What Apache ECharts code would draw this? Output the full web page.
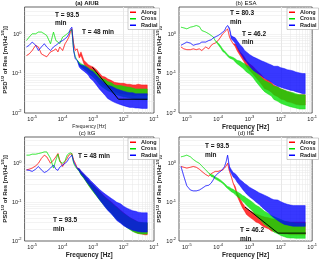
<!DOCTYPE html>
<html><head><meta charset="utf-8">
<script src="https://cdn.jsdelivr.net/npm/echarts@6/dist/echarts.min.js"></script>
<style>html,body{margin:0;padding:0;background:#fff}#c{width:320px;height:260px}</style>
</head><body><div id="c"></div><script>
// ---------- data ----------
const freq = [6.5e-6,8e-6,1e-5,1.3e-5,1.6e-5,2e-5,2.5e-5,3e-5,4e-5,5e-5,6e-5,7e-5,8e-5,1e-4,1.2e-4,1.4e-4,1.6e-4,1.8e-4,2e-4,2.3e-4,2.6e-4,3e-4,3.5e-4,4e-4,5e-4,6e-4,7e-4,8e-4,1e-3,1.3e-3,1.6e-3,2e-3,2.5e-3,3e-3,4e-3,5e-3,6e-3,8e-3,1e-2,1.3e-2,1.6e-2,2e-2,2.5e-2,3e-2,4e-2,5e-2,6e-2];
const seriesNames = ['Along','Cross','Radial'];
const panelTitles = ['(a) AIUB','(b) ESA','(c) ItG','(d) IfE'];
const periodsA = [93.5, 48], periodsB = [80.3, 46.2], periodsC = [93.5, 48], periodsD = [93.5, 46.2];

// (a) AIUB : upper / lower envelope of each spectrum
const aAlongHi = [0.29,0.32,0.39,0.53,0.48,0.32,0.29,0.27,0.36,0.39,0.43,0.36,0.48,0.39,0.58,0.70,0.86,1.15,1.39,0.58,0.39,0.43,0.29,0.36,0.22,0.19,0.17,0.16,0.149,0.127,0.105,0.086,0.082,0.074,0.067,0.061,0.059,0.057,0.057,0.054,0.054,0.052,0.052,0.054,0.052,0.052,0.052];
const aAlongLo = [0.29,0.32,0.39,0.53,0.48,0.32,0.29,0.27,0.36,0.39,0.43,0.36,0.48,0.39,0.58,0.70,0.86,1.15,1.39,0.58,0.39,0.43,0.25,0.29,0.18,0.143,0.127,0.113,0.101,0.080,0.066,0.054,0.047,0.043,0.039,0.036,0.034,0.031,0.031,0.029,0.029,0.028,0.028,0.029,0.028,0.028,0.028];
const aCrossHi = [0.70,0.86,1.04,1.04,1.15,1.15,1.04,0.94,0.58,1.15,0.70,0.64,0.58,0.86,0.94,1.04,1.15,1.26,1.31,0.39,0.27,0.22,0.20,0.18,0.167,0.155,0.143,0.132,0.123,0.105,0.086,0.074,0.071,0.063,0.059,0.052,0.050,0.050,0.048,0.046,0.045,0.043,0.041,0.041,0.041,0.041,0.041];
const aCrossLo = [0.70,0.86,1.04,1.04,1.15,1.15,1.04,0.94,0.58,1.15,0.70,0.64,0.58,0.86,0.94,1.04,1.15,1.26,1.31,0.39,0.27,0.22,0.167,0.149,0.132,0.118,0.105,0.094,0.083,0.066,0.054,0.046,0.041,0.037,0.034,0.030,0.029,0.027,0.026,0.025,0.024,0.023,0.022,0.022,0.0218,0.0218,0.0218];
const aRadialHi = [0.48,0.53,0.64,0.53,0.39,0.48,0.58,0.48,0.39,0.48,0.53,0.58,0.64,0.70,0.78,0.86,1.04,1.39,1.53,0.39,0.24,0.22,0.18,0.167,0.16,0.146,0.135,0.123,0.113,0.092,0.077,0.065,0.056,0.051,0.048,0.044,0.041,0.038,0.036,0.034,0.033,0.033,0.031,0.031,0.031,0.031,0.031];
const aRadialLo = [0.48,0.53,0.64,0.53,0.39,0.48,0.58,0.48,0.39,0.48,0.53,0.58,0.64,0.70,0.78,0.86,1.04,1.39,1.53,0.39,0.24,0.22,0.149,0.132,0.116,0.103,0.092,0.077,0.066,0.051,0.041,0.034,0.028,0.0235,0.0205,0.0187,0.0176,0.0163,0.0154,0.0145,0.0139,0.0139,0.0134,0.0134,0.0131,0.0131,0.0131];

// (b) ESA
const bAlongHi = [0.48,0.43,0.41,0.41,0.43,0.41,0.43,0.39,0.48,0.43,0.53,0.58,0.60,0.70,0.86,1.04,1.15,1.26,1.39,0.86,0.70,0.58,0.57,0.48,0.36,0.31,0.26,0.215,0.18,0.152,0.127,0.107,0.090,0.075,0.068,0.060,0.051,0.046,0.041,0.038,0.035,0.034,0.031,0.029,0.029,0.029,0.029];
const bAlongLo = [0.48,0.43,0.41,0.41,0.43,0.41,0.43,0.39,0.48,0.43,0.53,0.58,0.60,0.70,0.86,1.04,1.15,1.26,1.39,0.86,0.70,0.58,0.49,0.39,0.29,0.23,0.19,0.152,0.123,0.099,0.080,0.065,0.052,0.042,0.038,0.034,0.029,0.026,0.0226,0.0213,0.0194,0.0187,0.0176,0.0166,0.016,0.016,0.016];
const bCrossHi = [1.53,1.47,1.39,1.53,1.59,1.69,1.59,1.26,1.15,1.04,0.94,0.86,0.70,0.61,0.51,0.42,0.38,0.34,0.31,0.28,0.27,0.26,0.24,0.22,0.21,0.19,0.18,0.165,0.152,0.127,0.11,0.092,0.077,0.067,0.060,0.055,0.048,0.046,0.041,0.038,0.036,0.034,0.033,0.031,0.029,0.029,0.029];
const bCrossLo = [1.53,1.47,1.39,1.53,1.59,1.69,1.59,1.26,1.15,1.04,0.94,0.86,0.70,0.55,0.45,0.37,0.34,0.31,0.28,0.25,0.24,0.23,0.20,0.18,0.157,0.14,0.125,0.111,0.099,0.080,0.063,0.051,0.041,0.035,0.030,0.027,0.0222,0.0198,0.0176,0.0163,0.0154,0.0145,0.0139,0.0134,0.0126,0.0126,0.0126];
const bRadialHi = [0.53,0.58,0.64,0.60,0.53,0.56,0.58,0.64,0.64,0.70,0.73,0.82,0.86,0.94,1.04,1.15,1.26,1.53,1.69,1.47,0.94,0.87,0.82,0.70,0.55,0.47,0.39,0.36,0.31,0.27,0.25,0.23,0.21,0.20,0.18,0.167,0.155,0.155,0.143,0.135,0.127,0.123,0.118,0.111,0.105,0.101,0.101];
const bRadialLo = [0.53,0.58,0.64,0.60,0.53,0.56,0.58,0.64,0.64,0.70,0.73,0.82,0.86,0.94,1.04,1.15,1.26,1.53,1.69,1.31,0.78,0.69,0.60,0.48,0.34,0.27,0.22,0.20,0.155,0.123,0.109,0.097,0.086,0.077,0.068,0.061,0.054,0.048,0.045,0.042,0.040,0.038,0.037,0.035,0.033,0.031,0.031];

// (c) ItG
const cAlongHi = [0.70,0.73,0.78,0.89,1.04,1.39,1.69,1.53,1.04,1.26,1.53,1.86,1.26,0.86,1.15,1.39,1.69,1.79,1.86,1.26,1.04,0.78,0.75,0.63,0.53,0.44,0.39,0.34,0.29,0.23,0.20,0.165,0.138,0.123,0.103,0.086,0.077,0.063,0.054,0.046,0.041,0.037,0.034,0.031,0.030,0.029,0.029];
const cAlongLo = [0.70,0.73,0.78,0.89,1.04,1.39,1.69,1.53,1.04,1.26,1.53,1.86,1.26,0.86,1.15,1.39,1.69,1.79,1.86,1.26,1.04,0.78,0.67,0.54,0.43,0.35,0.29,0.25,0.20,0.152,0.123,0.099,0.080,0.068,0.055,0.045,0.038,0.031,0.027,0.023,0.0205,0.0183,0.0166,0.0157,0.0151,0.0145,0.0145];
const cCrossHi = [1.69,1.69,1.79,1.79,1.86,1.94,2.05,2.05,1.39,0.78,1.26,1.79,1.15,1.04,1.21,1.69,1.86,1.94,1.86,1.04,0.86,0.73,0.72,0.60,0.51,0.43,0.37,0.33,0.28,0.22,0.19,0.157,0.132,0.116,0.097,0.082,0.073,0.060,0.052,0.045,0.040,0.036,0.033,0.031,0.030,0.030,0.030];
const cCrossLo = [1.69,1.69,1.79,1.79,1.86,1.94,2.05,2.05,1.39,0.78,1.26,1.79,1.15,1.04,1.21,1.69,1.86,1.94,1.86,1.04,0.86,0.73,0.64,0.52,0.42,0.34,0.28,0.24,0.19,0.146,0.118,0.095,0.077,0.065,0.052,0.042,0.036,0.030,0.026,0.0222,0.0198,0.0176,0.0163,0.0157,0.0151,0.0151,0.0151];
const cRadialHi = [0.70,0.68,0.64,0.73,0.86,0.70,0.60,0.64,0.78,0.94,0.73,0.68,0.82,0.94,1.04,1.15,1.39,1.53,1.69,1.15,0.94,0.78,0.76,0.67,0.56,0.48,0.43,0.38,0.32,0.26,0.22,0.19,0.165,0.149,0.127,0.113,0.101,0.092,0.080,0.071,0.066,0.061,0.059,0.056,0.054,0.054,0.054];
const cRadialLo = [0.70,0.68,0.64,0.73,0.86,0.70,0.60,0.64,0.78,0.94,0.73,0.68,0.82,0.94,1.04,1.15,1.39,1.53,1.69,1.15,0.94,0.78,0.65,0.55,0.44,0.35,0.30,0.26,0.20,0.152,0.12,0.095,0.075,0.063,0.050,0.041,0.034,0.029,0.025,0.0222,0.0205,0.0190,0.0183,0.0176,0.0170,0.0170,0.0170];

// (d) IfE
const dAlongHi = [0.86,0.82,0.78,0.82,0.86,0.82,0.73,0.64,0.53,0.48,0.56,0.60,0.64,0.64,0.68,0.70,0.78,0.89,1.04,0.64,0.48,0.32,0.26,0.18,0.125,0.095,0.080,0.070,0.062,0.055,0.050,0.047,0.044,0.042,0.040,0.038,0.037,0.035,0.033,0.032,0.032,0.031,0.031,0.031,0.031,0.031,0.031];
const dAlongLo = [0.86,0.82,0.78,0.82,0.86,0.82,0.73,0.64,0.53,0.48,0.56,0.60,0.64,0.64,0.68,0.70,0.78,0.89,1.04,0.64,0.48,0.32,0.22,0.149,0.099,0.072,0.059,0.049,0.042,0.036,0.031,0.029,0.025,0.0226,0.0209,0.0183,0.0176,0.0166,0.0157,0.0151,0.0151,0.0145,0.0145,0.0145,0.0145,0.0145,0.0145];
const dCrossHi = [1.53,1.59,1.69,1.53,1.31,1.15,1.04,0.89,0.70,0.58,0.53,0.51,0.46,0.42,0.38,0.34,0.31,0.28,0.26,0.25,0.23,0.22,0.20,0.19,0.17,0.152,0.143,0.13,0.116,0.099,0.085,0.077,0.067,0.059,0.052,0.046,0.043,0.039,0.036,0.033,0.031,0.030,0.030,0.029,0.029,0.029,0.029];
const dCrossLo = [1.53,1.59,1.69,1.53,1.31,1.15,1.04,0.89,0.70,0.58,0.47,0.45,0.41,0.37,0.34,0.31,0.28,0.25,0.23,0.21,0.19,0.18,0.16,0.143,0.127,0.107,0.097,0.085,0.072,0.058,0.045,0.038,0.032,0.027,0.023,0.0198,0.017,0.0154,0.0139,0.0129,0.0122,0.0119,0.0119,0.0117,0.0117,0.0117,0.0117];
const dRadialHi = [0.86,0.48,0.27,0.21,0.20,0.20,0.21,0.23,0.27,0.28,0.32,0.39,0.48,0.58,0.64,0.73,0.86,1.15,1.69,0.86,0.72,0.60,0.56,0.49,0.39,0.35,0.31,0.29,0.25,0.22,0.20,0.18,0.165,0.155,0.138,0.125,0.118,0.116,0.105,0.095,0.090,0.086,0.083,0.083,0.083,0.083,0.083];
const dRadialLo = [0.86,0.48,0.27,0.21,0.20,0.20,0.21,0.23,0.27,0.28,0.32,0.39,0.48,0.58,0.64,0.73,0.86,1.15,1.69,0.70,0.57,0.46,0.41,0.34,0.27,0.22,0.19,0.167,0.14,0.12,0.103,0.090,0.075,0.066,0.054,0.045,0.040,0.034,0.030,0.027,0.026,0.025,0.024,0.024,0.024,0.024,0.024];

// fitted black lines
const fitAFreq = [9.5e-4, 6.8e-3, 6e-2], fitAVal = [0.146, 0.0224, 0.0224];
const fitDFreq = [7.2e-4, 8.1e-3, 6.3e-2], fitDVal = [0.076, 0.016, 0.016];

// ---------- chart ----------
const FONT = '"Liberation Sans", Arial, Helvetica, sans-serif';
const colors = ['#ff0000', '#00e000', '#0000ff'];
const panels = [
  {bands: [[aAlongHi,aAlongLo],[aCrossHi,aCrossLo],[aRadialHi,aRadialLo]], periods: periodsA, fit: [fitAFreq, fitAVal]},
  {bands: [[bAlongHi,bAlongLo],[bCrossHi,bCrossLo],[bRadialHi,bRadialLo]], periods: periodsB, fit: null},
  {bands: [[cAlongHi,cAlongLo],[cCrossHi,cCrossLo],[cRadialHi,cRadialLo]], periods: periodsC, fit: null},
  {bands: [[dAlongHi,dAlongLo],[dCrossHi,dCrossLo],[dRadialHi,dRadialLo]], periods: periodsD, fit: [fitDFreq, fitDVal]}
];
const gridPos = [
  {left: 20, top: 7, width: 134, height: 106},
  {left: 179, top: 7, width: 134, height: 106},
  {left: 20, top: 137, width: 134, height: 108},
  {left: 179, top: 137, width: 134, height: 108}
];
const XMIN = 5.62e-6, XMAX = 0.1, YMIN = 0.01, YMAX = 5;

function rgba(hex, a) {
  const n = parseInt(hex.slice(1), 16);
  return 'rgba(' + (n >> 16) + ',' + ((n >> 8) & 255) + ',' + (n & 255) + ',' + a + ')';
}
function powLabel(v) {
  const e = Math.log10(v), r = Math.round(e);
  if (Math.abs(e - r) > 1e-6) return '';
  return '10{s|' + r + '}';
}
const labelRich = {s: {fontSize: 4, padding: [0, 0, 4, 0], fontFamily: FONT, color: '#222'}};

const xAxes = [], yAxes = [], grids = [], series = [], legends = [];
const minorMult = [1,2,3,4,5,6,7,8,9];
const xGrid = [], yGrid = [];
[-6,-5,-4,-3,-2,-1].forEach(e => minorMult.forEach(m => { const v = m * Math.pow(10, e); if (v > XMIN * 1.01 && v < XMAX * 0.999) xGrid.push(v); }));
[-2,-1,0].forEach(e => minorMult.forEach(m => { const v = m * Math.pow(10, e); if (v > YMIN * 1.01 && v < YMAX * 0.999) yGrid.push(v); }));

panels.forEach((p, gi) => {
  grids.push(Object.assign({show: true, borderColor: '#222', borderWidth: 0.7, backgroundColor: '#fff', containLabel: false}, gridPos[gi]));
  xAxes.push({
    type: 'log', logBase: 10, gridIndex: gi, min: XMIN, max: XMAX,
    name: 'Frequency [Hz]', nameLocation: 'middle', nameGap: 11,
    nameTextStyle: gi === 0 ? {fontSize: 5, fontFamily: FONT, color: '#222'} : {fontSize: 6.5, fontWeight: 'bold', fontFamily: FONT, color: '#222'},
    axisLine: {show: false}, axisTick: {show: false}, splitLine: {show: false},
    axisLabel: {formatter: powLabel, fontSize: 5.5, margin: 2, color: '#222', fontFamily: FONT, rich: labelRich}
  });
  yAxes.push({
    type: 'log', logBase: 10, gridIndex: gi, min: YMIN, max: YMAX,
    name: 'PSD{s|1/2} of Res [m/(Hz{s|1/2})]', nameLocation: 'middle', nameGap: 11, nameRotate: 90,
    nameTextStyle: {fontSize: 6, fontWeight: 'bold', fontFamily: FONT, color: '#222',
      rich: {s: {fontSize: 4, fontWeight: 'bold', padding: [0, 0, 4, 0], fontFamily: FONT, color: '#222'}}},
    axisLine: {show: false}, axisTick: {show: false}, splitLine: {show: false},
    axisLabel: {formatter: powLabel, fontSize: 5.5, margin: 3, color: '#222', fontFamily: FONT, rich: labelRich}
  });
  // background grid (behind the spectra)
  series.push({
    type: 'line', xAxisIndex: gi, yAxisIndex: gi, data: [], z: 1, silent: true,
    markLine: {
      silent: true, z: 1, symbol: ['none', 'none'], label: {show: false}, animation: false,
      lineStyle: {color: '#e6e6e6', width: 0.5, type: 'solid'},
      data: xGrid.map(v => ({xAxis: v})).concat(yGrid.map(v => ({yAxis: v})))
    }
  });
  p.bands.forEach((b, si) => {
    const hi = b[0], lo = b[1], col = colors[si];
    series.push({
      type: 'custom', name: seriesNames[si], xAxisIndex: gi, yAxisIndex: gi, z: 3 + si,
      itemStyle: {color: col}, clip: true, animation: false,
      data: freq.map((f, i) => [f, hi[i], lo[i]]),
      encode: {x: 0, y: [1, 2]},
      renderItem: function (params, api) {
        if (params.dataIndex !== 0) return null;
        const pts = [];
        for (let i = 0; i < freq.length; i++) pts.push(api.coord([freq[i], hi[i]]));
        for (let i = freq.length - 1; i >= 0; i--) pts.push(api.coord([freq[i], lo[i]]));
        return {type: 'polygon', shape: {points: pts},
          style: {fill: rgba(col, 0.78), stroke: rgba(col, 0.55), lineWidth: 0.8}};
      }
    });
  });
  // period markers (on top)
  series.push({
    type: 'line', xAxisIndex: gi, yAxisIndex: gi, data: [], z: 9, silent: true,
    markLine: {
      silent: true, z: 9, symbol: ['none', 'none'], label: {show: false}, animation: false,
      lineStyle: {color: '#8a8a8a', width: 1.2, type: 'solid'},
      data: p.periods.map(T => ({xAxis: 1 / (T * 60)}))
    }
  });
  if (p.fit) {
    series.push({
      type: 'line', xAxisIndex: gi, yAxisIndex: gi, z: 10, silent: true, symbol: 'none', animation: false,
      data: p.fit[0].map((f, i) => [f, p.fit[1][i]]),
      lineStyle: {color: '#000', width: 1}
    });
  }
  const g = gridPos[gi];
  legends.push({
    data: seriesNames, left: g.left + g.width - 26, top: g.top + 1, orient: 'vertical',
    icon: 'rect', itemWidth: 6, itemHeight: 1.5, itemGap: 0, padding: [1, 2, 1, 2],
    backgroundColor: '#fff', borderColor: '#999', borderWidth: 0.5, selectedMode: false,
    textStyle: {fontSize: 5.5, lineHeight: 6.5, fontWeight: 'bold', color: '#222', fontFamily: FONT}
  });
});

function txt(s, x, y, opt) {
  return {type: 'text', x: x, y: y, z: 100, silent: true,
    style: Object.assign({text: s, fontSize: 6.5, fontWeight: 'bold', fontFamily: FONT, fill: '#111', align: 'left', verticalAlign: 'middle'}, opt || {})};
}
const graphics = [
  txt(panelTitles[0], 87, 3, {align: 'center', fontSize: 6}),
  txt(panelTitles[1], 246, 3, {align: 'center', fontSize: 6, fontWeight: 'normal'}),
  txt(panelTitles[2], 87, 133, {align: 'center', fontSize: 6, fontWeight: 'normal'}),
  txt(panelTitles[3], 246, 133, {align: 'center', fontSize: 6, fontWeight: 'normal'}),
  txt('T = 93.5', 55, 15), txt('min', 55, 23.5), txt('T = 48 min', 82, 32.5),
  txt('T = 80.3', 230, 13.5), txt('min', 230, 22.5), txt('T = 46.2', 242, 34.5), txt('min', 242, 42.5),
  txt('T = 48 min', 78, 156), txt('T = 93.5', 53, 220), txt('min', 53, 229.5),
  txt('T = 93.5', 205, 146.5), txt('min', 205, 155.5), txt('T = 46.2', 240, 230), txt('min', 240, 239)
];

const chart = echarts.init(document.getElementById('c'), null, {renderer: 'canvas', width: 320, height: 260});
chart.setOption({
  animation: false, backgroundColor: '#fff',
  textStyle: {fontFamily: FONT},
  grid: grids, xAxis: xAxes, yAxis: yAxes, legend: legends, series: series, graphic: graphics
});
</script></body></html>
